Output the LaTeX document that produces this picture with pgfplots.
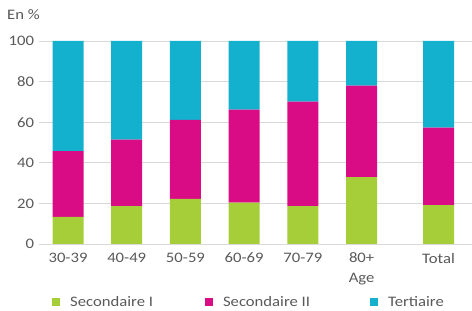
\documentclass[border=0pt]{standalone}
\usepackage{fontspec}
\setmainfont[FakeStretch=1.15]{Carlito}
\usepackage{pgfplots}
\pgfplotsset{compat=1.18}
\definecolor{cgreen}{HTML}{A6CE39}
\definecolor{cmag}{HTML}{DA0C85}
\definecolor{ccyan}{HTML}{14B1CF}
\definecolor{ctext}{HTML}{595959}
\definecolor{cgrid}{HTML}{D9D9D9}
\begin{document}
\fontsize{14.5}{17}\selectfont
\begin{tikzpicture}
\path[use as bounding box] (0,0) rectangle (472pt,311pt);
\begin{axis}[
  at={(39pt,67pt)}, anchor=south west,
  scale only axis, width=433pt, height=203pt,
  ybar stacked, bar width=31pt,
  xmin=-0.494, xmax=6.88, ymin=0, ymax=100,
  xtick={0,1,2,3,4,5,6.31},
  xticklabels={30-39,40-49,50-59,60-69,70-79,{80+\\Age},Total},
  ytick={0,20,40,60,80,100},
  ymajorgrids, grid style={cgrid, line width=0.9pt},
  axis line style={draw=none},
  major tick length=0pt,
  /pgf/number format/assume math mode=true,
  tick label style={text=ctext, font=\fontsize{14.5}{20}\selectfont},
  x tick label style={align=center, yshift=-4pt},
  legend style={draw=none, fill=none, inner sep=0pt, legend columns=3,
    nodes={inner ysep=0.5pt},
    at={([xshift=13pt,yshift=-58.5pt]axis description cs:0,0)}, anchor=west,
    font=\fontsize{14.5}{17}\selectfont, text=ctext,
    /tikz/every even column/.append style={column sep=50pt}},
  legend image code/.code={\fill[#1] (0pt,-4pt) rectangle (8pt,4pt); \path (16pt,0pt);},
]
\addplot[fill=cgreen, draw=none] coordinates {(0,13.4) (1,18.7) (2,22.2) (3,20.4) (4,18.7) (5,33.0) (6.31,19.2)};
\addplot[fill=cmag, draw=none] coordinates {(0,32.4) (1,32.7) (2,39.0) (3,45.8) (4,51.4) (5,45.0) (6.31,38.1)};
\addplot[fill=ccyan, draw=none] coordinates {(0,54.2) (1,48.6) (2,38.8) (3,33.8) (4,29.9) (5,22.0) (6.31,42.7)};
\legend{Secondaire I, Secondaire II\kern8pt\null, Tertiaire}
\end{axis}
\node[anchor=west, text=ctext, inner sep=0pt] at (7pt,296pt) {En \%};
\end{tikzpicture}
\end{document}
